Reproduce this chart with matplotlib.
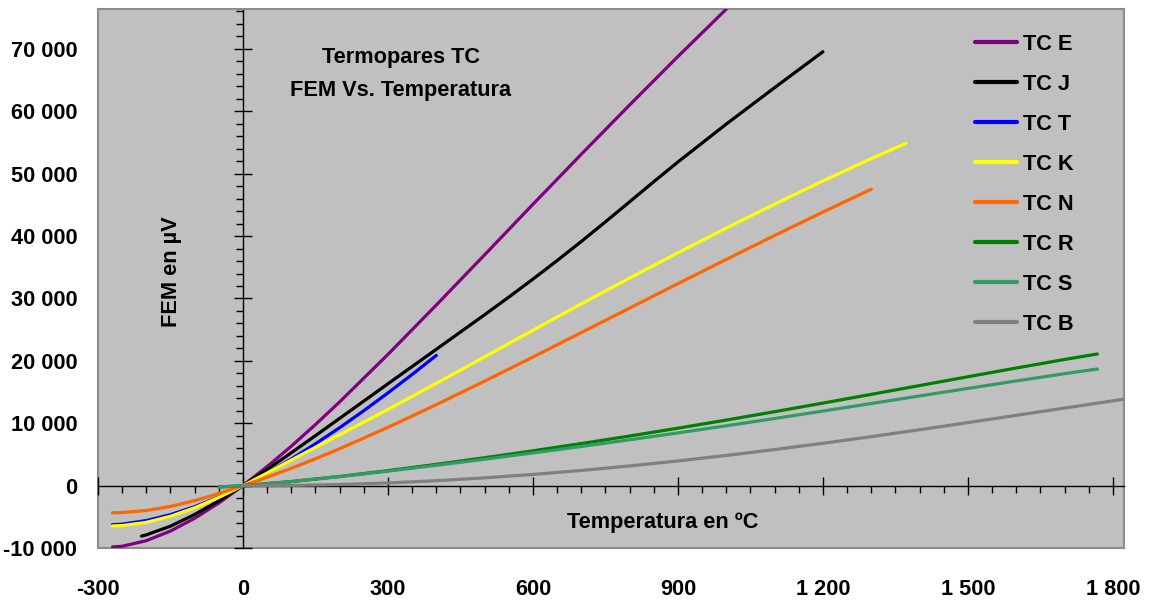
import matplotlib
matplotlib.use("Agg")

import matplotlib.pyplot as plt
from matplotlib.ticker import MultipleLocator, FuncFormatter, FixedLocator

# ==============================
# DATOS (uV)
# ==============================
t_e = [-270, -250, -200, -150, -100, -50, 0, 50, 100, 150, 200, 300, 400, 500, 600, 700, 800, 900, 1000]
v_e = [-9835, -9719, -8825, -7279, -5237, -2787, 0, 3048, 6319, 9789, 13421, 21036, 28946, 36999,
       45093, 53112, 61017, 68787, 76373]

t_j = [-210, -200, -150, -100, -50, 0, 50, 100, 150, 200, 300, 400, 500, 550, 600, 650, 700, 750,
       800, 850, 900, 1000, 1100, 1200]
v_j = [-8095, -7890, -6500, -4633, -2431, 0, 2585, 5269, 8010, 10779, 16327, 21848, 27393, 30216,
       33102, 36071, 39132, 42281, 45494, 48715, 51877, 57953, 63792, 69553]

t_t = [-270, -250, -200, -150, -100, -50, 0, 50, 100, 150, 200, 250, 300, 350, 400]
v_t = [-6258, -6180, -5603, -4648, -3379, -1819, 0, 2036, 4279, 6704, 9288, 12013, 14862, 17819, 20872]

t_k = [-270, -250, -200, -150, -100, -50, 0, 50, 100, 150, 200, 300, 400, 500, 600, 700, 800, 900,
       1000, 1100, 1200, 1300, 1372]
v_k = [-6458, -6404, -5891, -4913, -3554, -1889, 0, 2023, 4096, 6138, 8138, 12209, 16397, 20644,
       24905, 29129, 33275, 37326, 41276, 45119, 48838, 52410, 54886]

t_n = [-270, -250, -200, -150, -100, -50, 0, 50, 100, 150, 200, 300, 400, 500, 600, 700, 800, 900,
       1000, 1100, 1200, 1300]
v_n = [-4345, -4313, -3990, -3336, -2407, -1269, 0, 1340, 2774, 4302, 5913, 9341, 12974, 16748,
       20613, 24527, 28455, 32371, 36256, 40087, 43846, 47513]

t_r = [-50, 0, 100, 200, 300, 400, 500, 600, 700, 800, 900, 1000, 1100, 1200, 1300, 1400, 1500,
       1600, 1700, 1768]
v_r = [-226, 0, 647, 1469, 2401, 3408, 4471, 5583, 6743, 7950, 9205, 10506, 11850, 13228, 14629,
       16040, 17451, 18849, 20222, 21101]

t_s = [-50, 0, 100, 200, 300, 400, 500, 600, 700, 800, 900, 1000, 1100, 1200, 1300, 1400, 1500,
       1600, 1700, 1768]
v_s = [-236, 0, 646, 1441, 2323, 3259, 4233, 5239, 6275, 7345, 8449, 9587, 10757, 11951, 13159,
       14373, 15582, 16777, 17947, 18693]

t_b = [0, 100, 200, 300, 400, 500, 600, 700, 800, 900, 1000, 1100, 1200, 1300, 1400, 1500, 1600,
       1700, 1800, 1820]
v_b = [0, 33, 178, 431, 787, 1242, 1792, 2431, 3154, 3957, 4834, 5780, 6786, 7848, 8956, 10099,
       11263, 12433, 13591, 13820]

series = [
    ("TC E", t_e, v_e, "#800080"),
    ("TC J", t_j, v_j, "#000000"),
    ("TC T", t_t, v_t, "#0000FF"),
    ("TC K", t_k, v_k, "#FFFF00"),
    ("TC N", t_n, v_n, "#FF6600"),
    ("TC R", t_r, v_r, "#008000"),
    ("TC S", t_s, v_s, "#339966"),
    ("TC B", t_b, v_b, "#808080"),
]

x_ticks = [-300, 0, 300, 600, 900, 1200, 1500, 1800]
y_ticks = [-10000, 0, 10000, 20000, 30000, 40000, 50000, 60000, 70000]

FS = 15.7
plt.rcParams["font.family"] = ["Liberation Sans", "DejaVu Sans"]
plt.rcParams["font.weight"] = "bold"

fig = plt.figure(figsize=(11.49, 6.01), dpi=100)
ax = fig.add_axes([98 / 1149, 1 - 548 / 601, 1026 / 1149, 539 / 601])
ax.set_facecolor("#C0C0C0")

for nombre, t, v, c in series:
    ax.plot(t, v, color=c, lw=2.3, label=nombre, zorder=3, solid_capstyle="round")

ax.set_xlim(-300, 1823)
ax.set_ylim(-10000, 76400)

# ejes en cero
ax.spines["left"].set_position(("data", 0))
ax.spines["bottom"].set_position(("data", 0))
for k in ("left", "bottom"):
    ax.spines[k].set_color("black")
    ax.spines[k].set_linewidth(1.0)
for k in ("top", "right"):
    ax.spines[k].set_color("#8C8C8C")
    ax.spines[k].set_linewidth(1.5)

ax.xaxis.set_major_locator(MultipleLocator(300))
ax.xaxis.set_minor_locator(MultipleLocator(50))
ax.yaxis.set_major_locator(MultipleLocator(10000))
ax.yaxis.set_minor_locator(MultipleLocator(2000))
ax.tick_params(which="major", direction="inout", length=13, width=1, color="black",
               labelbottom=False, labelleft=False)
ax.tick_params(which="minor", direction="out", length=5, width=1, color="black")

# etiquetas en los bordes
fmt = FuncFormatter(lambda v, p: f"{v:,.0f}".replace(",", " "))
sx = ax.secondary_xaxis(0)
sx.xaxis.set_major_locator(FixedLocator(x_ticks))
sx.xaxis.set_major_formatter(fmt)
sx.tick_params(length=0, pad=22, labelsize=FS)
sx.spines["bottom"].set_color("#8C8C8C")
sx.spines["bottom"].set_linewidth(1.5)

sy = ax.secondary_yaxis(0)
sy.yaxis.set_major_locator(FixedLocator(y_ticks))
sy.yaxis.set_major_formatter(fmt)
sy.tick_params(length=0, pad=15, labelsize=FS)
sy.spines["left"].set_color("#8C8C8C")
sy.spines["left"].set_linewidth(1.5)

# textos
ax.text(0.2953, 0.879, "Termopares TC\nFEM Vs. Temperatura", transform=ax.transAxes,
        ha="center", va="center", fontsize=FS, fontweight="bold", linespacing=1.75)
ax.text(0.072, 0.512, "FEM en µV", transform=ax.transAxes, rotation=90,
        ha="center", va="center", fontsize=FS, fontweight="bold")
ax.text(0.5507, 0.048, "Temperatura en ºC", transform=ax.transAxes,
        ha="center", va="center", fontsize=FS, fontweight="bold")

leg = ax.legend(loc="upper left", bbox_to_anchor=(0.855, 0.954), frameon=False,
                fontsize=FS, handlelength=1.9, handletextpad=0.3, labelspacing=0.87,
                borderpad=0, borderaxespad=0)
for ln in leg.get_lines():
    ln.set_linewidth(3)

plt.savefig("out.png", dpi=100)
plt.close()
